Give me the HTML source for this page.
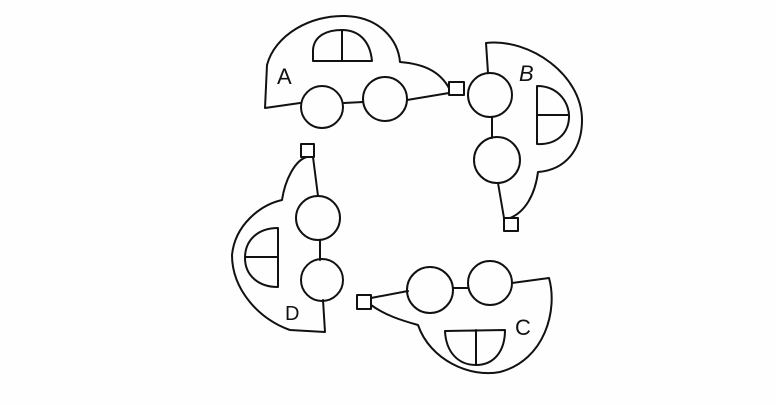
<!DOCTYPE html>
<html><head><meta charset="utf-8"><style>
html,body{margin:0;padding:0;background:#fff;}
svg{display:block;}
text{font-family:"Liberation Sans",sans-serif;fill:#111;}
</style></head><body>
<svg width="776" height="405" viewBox="0 0 776 405">
<rect width="776" height="405" fill="#fefefe"/>
<g fill="none" stroke="#111" stroke-width="2" stroke-linecap="round" stroke-linejoin="round">
<g>
<path d="M300,103 L265,108 L267,65 C275,35 310,15 345,16 C380,17 398,40 400,62 C425,64 440,72 449,88"/>
<path d="M449,93 L407,100 M363,102 L344,103"/>
<circle cx="322" cy="107" r="21"/><circle cx="385" cy="99" r="22"/>
<path d="M313,61 L313,50 C314,35 328,30 342,30 C358,30 370,40 372,61 Z M342,30 L342,61"/>
<rect x="449" y="82" width="15" height="13"/>
</g>
<g>
<path d="M488,73 L486,43 C530,38 582,75 582,120 C582,150 565,170 538,172 C535,195 525,212 510,218"/>
<path d="M492,117 L492,138 M498,183 L504,218"/>
<circle cx="490" cy="95" r="22"/><circle cx="497" cy="160" r="23"/>
<path d="M537,86 C560,86 570,105 569,118 C568,135 555,145 537,144 Z M537,115 L569,115"/>
<rect x="504" y="218" width="14" height="13"/>
</g>
<g>
<path d="M307,157 C295,160 285,180 282,200 C260,205 235,225 232,255 C232,290 260,320 290,330 L325,332 L323,300"/>
<path d="M313,157 L318,196 M320,240 L320,260"/>
<circle cx="318" cy="218" r="22"/><circle cx="322" cy="280" r="21"/>
<path d="M278,228 C258,228 245,240 245,258 C245,275 258,287 278,287 Z M245,257 L278,257"/>
<rect x="301" y="144" width="13" height="13"/>
</g>
<g>
<path d="M371,298 L408,291 M453,288 L468,288 M512,283 L549,278 C558,310 545,360 500,372 C470,378 430,360 418,325 C400,320 385,315 371,305"/>
<circle cx="430" cy="290" r="23"/><circle cx="490" cy="283" r="22"/>
<path d="M445,331 L505,330 C505,350 495,365 476,365 C458,365 446,352 445,331 Z M476,330 L476,365"/>
<rect x="357" y="295" width="14" height="14"/>
</g>
</g>
<text x="277" y="84" font-size="22">A</text>
<text x="519" y="81" font-size="22" font-style="italic">B</text>
<text x="515" y="335" font-size="22">C</text>
<text x="285" y="320" font-size="20">D</text>
</svg>
</body></html>
